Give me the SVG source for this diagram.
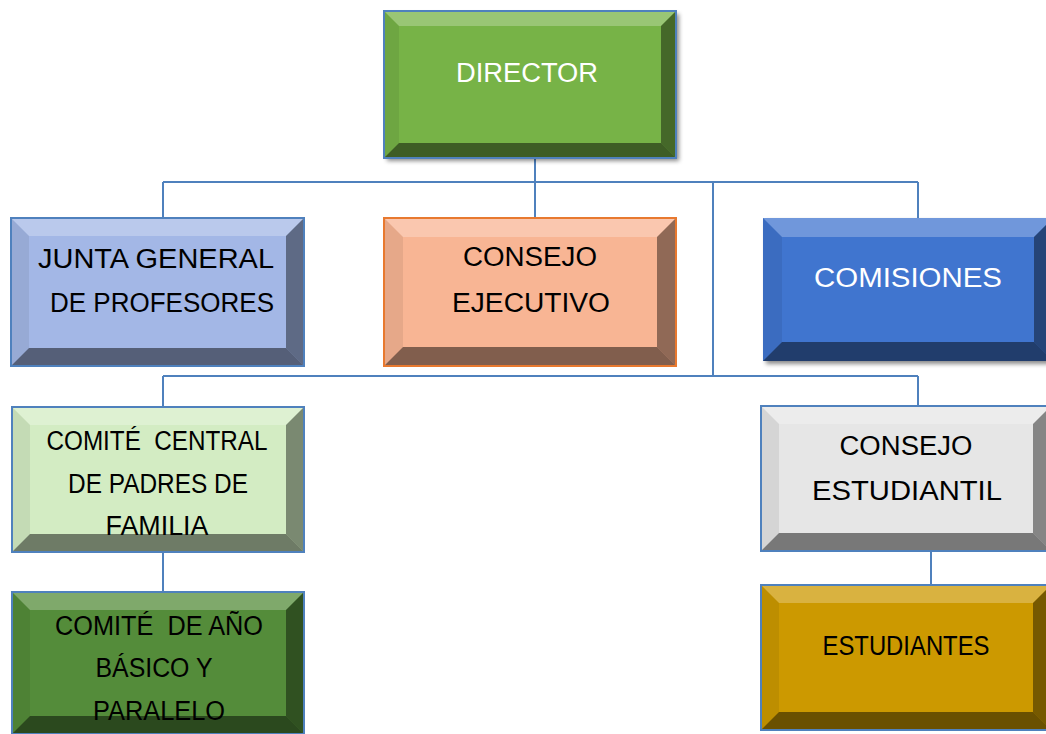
<svg xmlns="http://www.w3.org/2000/svg" width="1046" height="734" viewBox="0 0 1046 734">
<defs>
<style>
.lbl{font-family:"Liberation Sans",Arial,sans-serif;font-size:27px;text-anchor:middle;fill:#000;white-space:pre}
.w{fill:#fff}
.edge{fill:none;stroke:#4f81bd;stroke-width:2}
.border{fill:none;stroke:#4f81bd;stroke-width:2}
.bt{fill:#fff;fill-opacity:.25}
.bl{fill:#000;fill-opacity:.07}
.br{fill:#000;fill-opacity:.42}
.bb{fill:#000;fill-opacity:.48}
</style>
<filter id="sh" x="-5%" y="-5%" width="115%" height="120%">
<feDropShadow dx="3" dy="3" stdDeviation="2" flood-color="#000" flood-opacity=".45"/>
</filter>
</defs>
<rect width="1046" height="734" fill="#fff"/>

<g id="connectors">
<line class="edge" x1="535" y1="158" x2="535" y2="218"/>
<line class="edge" x1="163" y1="182" x2="918" y2="182"/>
<line class="edge" x1="163" y1="182" x2="163" y2="218"/>
<line class="edge" x1="918" y1="182" x2="918" y2="218"/>
<line class="edge" x1="713" y1="182" x2="713" y2="376"/>
<line class="edge" x1="163" y1="376" x2="918" y2="376"/>
<line class="edge" x1="163" y1="376" x2="163" y2="407"/>
<line class="edge" x1="918" y1="376" x2="918" y2="406"/>
<line class="edge" x1="163" y1="552" x2="163" y2="592"/>
<line class="edge" x1="931" y1="551" x2="931" y2="585"/>
</g>

<g id="director">
<rect x="384" y="11" width="292" height="147" fill="#77b347" filter="url(#sh)"/>
<polygon class="bt" points="384,11 676,11 661,26 399,26"/>
<polygon class="bl" points="384,11 399,26 399,143 384,158"/>
<polygon class="br" points="676,11 676,158 661,143 661,26"/>
<polygon class="bb" points="384,158 676,158 661,143 399,143"/>
<rect class="border" x="384" y="11" width="292" height="147"/>
<text class="lbl w" x="527" y="82" textLength="142" lengthAdjust="spacingAndGlyphs">DIRECTOR</text>
</g>

<g id="junta">
<rect x="11" y="218" width="293" height="148" fill="#a3b7e6"/>
<polygon class="bt" points="11,218 304,218 286,236 29,236"/>
<polygon class="bl" points="11,218 29,236 29,348 11,366"/>
<polygon class="br" points="304,218 304,366 286,348 286,236"/>
<polygon class="bb" points="11,366 304,366 286,348 29,348"/>
<rect class="border" x="11" y="218" width="293" height="148"/>
<text class="lbl" x="156" y="268" textLength="236" lengthAdjust="spacingAndGlyphs">JUNTA GENERAL</text>
<text class="lbl" x="162" y="312" textLength="224" lengthAdjust="spacingAndGlyphs">DE PROFESORES</text>
</g>

<g id="consejo-ejecutivo">
<rect x="384" y="218" width="292" height="148" fill="#f8b594"/>
<polygon class="bt" points="384,218 676,218 657,237 403,237"/>
<polygon class="bl" points="384,218 403,237 403,347 384,366"/>
<polygon class="br" points="676,218 676,366 657,347 657,237"/>
<polygon class="bb" points="384,366 676,366 657,347 403,347"/>
<rect x="384" y="218" width="292" height="148" fill="none" stroke="#e8792f" stroke-width="2"/>
<text class="lbl" x="530" y="266" textLength="134" lengthAdjust="spacingAndGlyphs">CONSEJO</text>
<text class="lbl" x="531" y="312" textLength="158" lengthAdjust="spacingAndGlyphs">EJECUTIVO</text>
</g>

<g id="comisiones">
<rect x="763" y="218" width="290" height="143" fill="#3f74cf" filter="url(#sh)"/>
<polygon class="bt" points="763,218 1053,218 1034,237 782,237"/>
<polygon class="bl" points="763,218 782,237 782,342 763,361"/>
<polygon class="br" points="1053,218 1053,361 1034,342 1034,237"/>
<polygon class="bb" points="763,361 1053,361 1034,342 782,342"/>
<text class="lbl w" x="908" y="287" textLength="188" lengthAdjust="spacingAndGlyphs">COMISIONES</text>
</g>

<g id="comite-central">
<rect x="12" y="407" width="292" height="145" fill="#d3ecc3"/>
<text class="lbl" x="157" y="450" textLength="221" lengthAdjust="spacingAndGlyphs">COMITÉ  CENTRAL</text>
<text class="lbl" x="158" y="493" textLength="180" lengthAdjust="spacingAndGlyphs">DE PADRES DE</text>
<text class="lbl" x="157" y="535" textLength="103" lengthAdjust="spacingAndGlyphs">FAMILIA</text>
<polygon class="bt" points="12,407 304,407 286,425 30,425"/>
<polygon class="bl" points="12,407 30,425 30,534 12,552"/>
<polygon class="br" points="304,407 304,552 286,534 286,425"/>
<polygon class="bb" points="12,552 304,552 286,534 30,534"/>
<rect class="border" x="12" y="407" width="292" height="145"/>
</g>

<g id="comite-anio">
<rect x="12" y="592" width="292" height="142" fill="#548c3a"/>
<text class="lbl" x="159" y="635" textLength="208" lengthAdjust="spacingAndGlyphs">COMITÉ  DE AÑO</text>
<text class="lbl" x="154" y="677" textLength="117" lengthAdjust="spacingAndGlyphs">BÁSICO Y</text>
<text class="lbl" x="159" y="720" textLength="132" lengthAdjust="spacingAndGlyphs">PARALELO</text>
<polygon class="bt" points="12,592 304,592 286,610 30,610"/>
<polygon class="bl" points="12,592 30,610 30,716 12,734"/>
<polygon class="br" points="304,592 304,734 286,716 286,610"/>
<polygon class="bb" points="12,734 304,734 286,716 30,716"/>
<rect class="border" x="12" y="592" width="292" height="142"/>
</g>

<g id="consejo-estudiantil">
<rect x="761" y="406" width="290" height="145" fill="#e6e6e6"/>
<polygon class="bt" points="761,406 1051,406 1033,424 779,424"/>
<polygon class="bl" points="761,406 779,424 779,533 761,551"/>
<polygon class="br" points="1051,406 1051,551 1033,533 1033,424"/>
<polygon class="bb" points="761,551 1051,551 1033,533 779,533"/>
<rect class="border" x="761" y="406" width="290" height="145"/>
<text class="lbl" x="906" y="455" textLength="133" lengthAdjust="spacingAndGlyphs">CONSEJO</text>
<text class="lbl" x="907" y="500" textLength="190" lengthAdjust="spacingAndGlyphs">ESTUDIANTIL</text>
</g>

<g id="estudiantes">
<rect x="761" y="585" width="290" height="145" fill="#cc9900"/>
<polygon class="bt" points="761,585 1051,585 1033,603 779,603"/>
<polygon class="bl" points="761,585 779,603 779,712 761,730"/>
<polygon class="br" points="1051,585 1051,730 1033,712 1033,603"/>
<polygon class="bb" points="761,730 1051,730 1033,712 779,712"/>
<rect class="border" x="761" y="585" width="290" height="145"/>
<text class="lbl" x="906" y="655" textLength="167" lengthAdjust="spacingAndGlyphs">ESTUDIANTES</text>
</g>
</svg>
